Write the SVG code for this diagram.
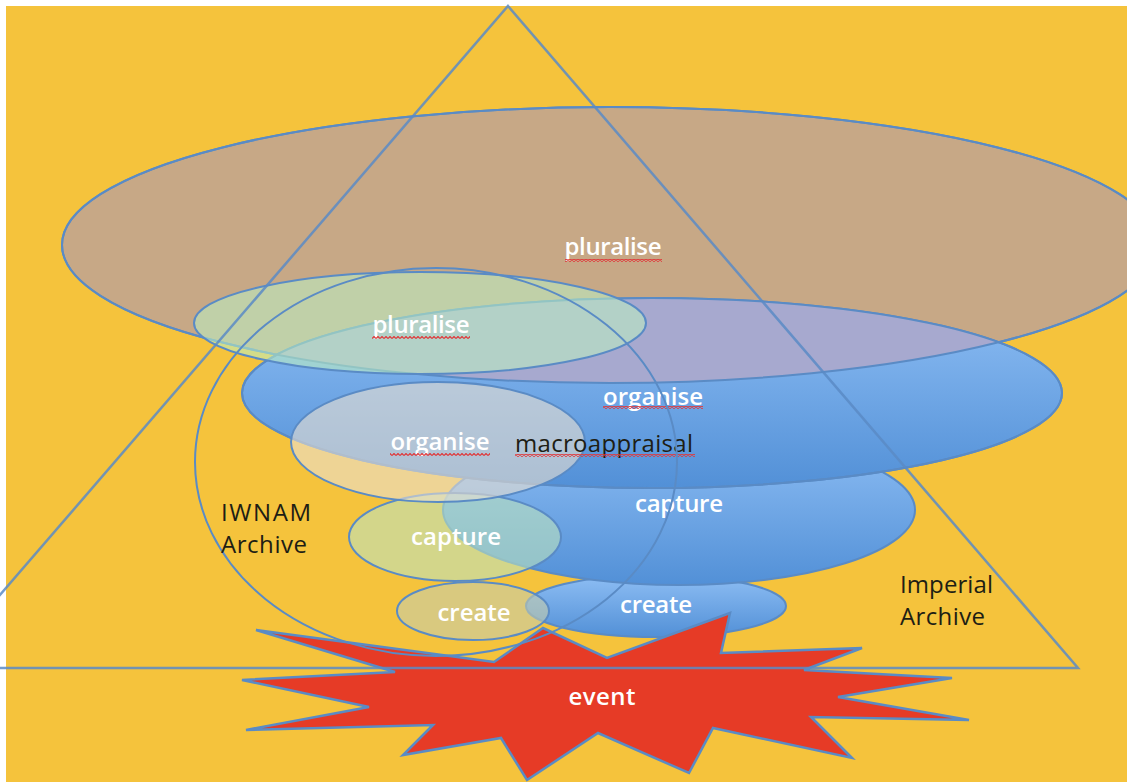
<svg xmlns="http://www.w3.org/2000/svg" width="1127" height="782" viewBox="0 0 1127 782">
<defs>
<linearGradient id="blueGrad" x1="0" y1="0" x2="0" y2="1">
<stop offset="0" stop-color="#8EBEF4"/>
<stop offset="1" stop-color="#5290D7"/>
</linearGradient>
<clipPath id="brownClip"><ellipse cx="610" cy="245" rx="548" ry="138"/></clipPath>
<pattern id="squig" width="4" height="3" patternUnits="userSpaceOnUse">
<path d="M0 2.5 L2 0.5 L4 2.5" stroke="#E0383A" stroke-width="1.2" fill="none"/>
</pattern>
</defs>
<style>
.ln{stroke:#5A8BC5;stroke-width:2;}
.blue{fill:url(#blueGrad);stroke:#5A8BC5;stroke-width:2;}
.lbl{font-family:"Open Sans","Noto Sans",sans-serif;font-size:24px;font-weight:600;fill:#ffffff;text-anchor:middle;}
.dark{font-family:"Open Sans","Noto Sans",sans-serif;font-size:24px;font-weight:500;fill:#1E1E14;}
.sq{fill:url(#squig);}
</style>
<rect width="1127" height="782" fill="#ffffff"/>
<rect x="6" y="6" width="1121" height="776" fill="#F5C33C"/>

<g id="pluralise-outer">
<ellipse cx="610" cy="245" rx="548" ry="138" fill="#C7A886" class="ln"/>
<text class="lbl" x="613" y="255" textLength="97">pluralise</text>
<rect class="sq" x="565" y="259" width="97" height="3"/>
</g>

<g id="create-imperial">
<ellipse cx="656" cy="606" rx="130" ry="31" class="blue"/>
<text class="lbl" x="656" y="613" textLength="72">create</text>
</g>

<g id="capture-imperial">
<ellipse cx="679" cy="510" rx="236" ry="75" class="blue"/>
<text class="lbl" x="679" y="512" textLength="88">capture</text>
</g>

<g id="organise-imperial">
<ellipse cx="652" cy="393" rx="410" ry="95" class="blue"/>
<ellipse cx="652" cy="393" rx="410" ry="95" fill="#A7A9CF" clip-path="url(#brownClip)"/>
<ellipse cx="652" cy="393" rx="410" ry="95" fill="none" class="ln"/>
<ellipse cx="610" cy="245" rx="548" ry="138" fill="none" class="ln"/>
<text class="lbl" x="653" y="405" textLength="100">organise</text>
<rect class="sq" x="603" y="406" width="100" height="3"/>
</g>

<g id="create-iwnam">
<ellipse cx="473" cy="611" rx="76" ry="29" fill="#C6CDAC" fill-opacity="0.6" class="ln"/>
<text class="lbl" x="474" y="621" textLength="73">create</text>
</g>

<g id="capture-iwnam">
<ellipse cx="455" cy="537" rx="106" ry="44" fill="#BCE3BE" fill-opacity="0.6" class="ln"/>
<text class="lbl" x="456" y="545" textLength="90">capture</text>
</g>

<g id="organise-iwnam">
<ellipse cx="438" cy="442" rx="147" ry="60" fill="#EAE0D0" fill-opacity="0.6" class="ln"/>
<text class="lbl" x="440" y="450" textLength="99">organise</text>
<rect class="sq" x="390" y="453" width="100" height="3"/>
</g>

<g id="pluralise-iwnam">
<ellipse cx="420" cy="323" rx="226" ry="51" fill="#BCEDC1" fill-opacity="0.58" class="ln"/>
<text class="lbl" x="421" y="333" textLength="97">pluralise</text>
<rect class="sq" x="372" y="336" width="98" height="3"/>
</g>

<g id="macroappraisal">
<text class="dark" x="515" y="452" textLength="178">macroappraisal</text>
<rect class="sq" x="515" y="454" width="180" height="3"/>
</g>

<g id="event">
<polygon points="256,630 494,662 543,628 607,658 730,613 721,653 862,648 804,670 952,678 838,697 969,720 811,717 852,758 713,728 689,773 598,733 527,780 501,738 403,755 433,725 246,730 369,707 242,680 395,672" fill="#E63B26" stroke="#5A8BC5" stroke-width="2.5" stroke-linejoin="miter"/>
<text class="lbl" x="602" y="705" textLength="67">event</text>
</g>

<g id="iwnam-archive">
<ellipse cx="436" cy="462" rx="241" ry="194" fill="none" class="ln"/>
<text class="dark" x="221" y="521" textLength="90">IWNAM</text>
<text class="dark" x="221" y="553" textLength="86">Archive</text>
</g>

<g id="imperial-archive">
<polygon points="508,6 1078,668 -63,668" fill="none" stroke="#5A8BC5" stroke-width="2.5" stroke-opacity="0.85"/>
<text class="dark" x="900" y="593" textLength="93">Imperial</text>
<text class="dark" x="900" y="625" textLength="85">Archive</text>
</g>
</svg>
